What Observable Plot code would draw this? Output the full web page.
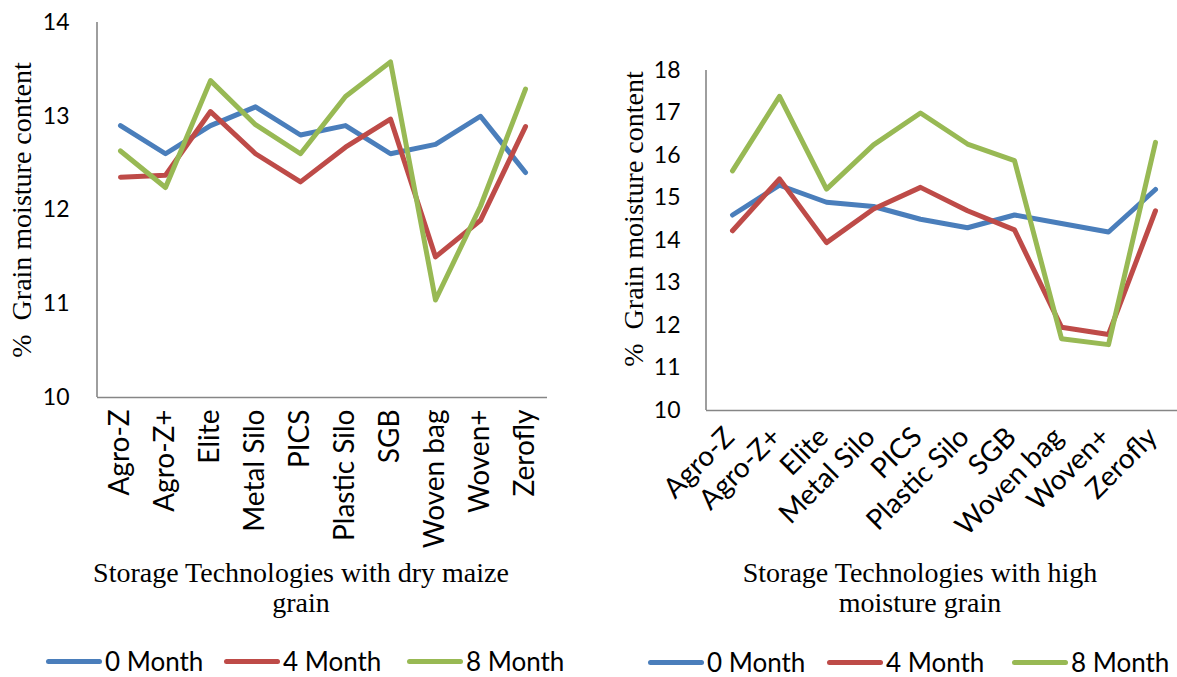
<!DOCTYPE html>
<html><head><meta charset="utf-8">
<script src="https://cdn.jsdelivr.net/npm/d3@7"></script>
<script src="https://cdn.jsdelivr.net/npm/@observablehq/plot@0.6"></script>
<style>
body{margin:0;background:#fff;}
#wrap{position:relative;width:1177px;height:677px;overflow:hidden;background:#fff;color:#000;}
.abs{position:absolute;}
.ytitle{font-family:"Liberation Serif","Times New Roman",serif;font-size:28px;white-space:pre;transform:translate(-50%,-50%) rotate(-90deg);line-height:1;}
.xtitle{font-family:"Liberation Serif","Times New Roman",serif;font-size:28px;line-height:30px;text-align:center;white-space:nowrap;transform:translateX(-50%);}
.leg{position:absolute;font-family:Lato,sans-serif;font-size:26px;line-height:26px;height:26px;white-space:nowrap;display:flex;align-items:center;}
.leg .sw{display:inline-block;width:56px;height:5px;border-radius:3px;margin-right:3px;}
</style></head><body><div id="wrap"></div>
<script>
// ---- data ----
const categories = ["Agro-Z","Agro-Z+","Elite","Metal Silo","PICS","Plastic Silo","SGB","Woven bag","Woven+","Zerofly"];
const seriesNames = ["0 Month","4 Month","8 Month"];
const seriesColors = ["#4a7ebb","#be4b48","#98b954"];

const dryMonth0 = [12.9, 12.6, 12.9, 13.1, 12.8, 12.9, 12.6, 12.7, 13.0, 12.4];
const dryMonth4 = [12.35, 12.37, 13.05, 12.6, 12.3, 12.67, 12.97, 11.5, 11.89, 12.89];
const dryMonth8 = [12.63, 12.24, 13.38, 12.91, 12.6, 13.21, 13.58, 11.04, 12.04, 13.29];

const highMonth0 = [14.6, 15.3, 14.9, 14.8, 14.5, 14.3, 14.6, 14.4, 14.2, 15.2];
const highMonth4 = [14.23, 15.45, 13.95, 14.74, 15.25, 14.7, 14.25, 11.96, 11.79, 14.7];
const highMonth8 = [15.64, 17.39, 15.21, 16.25, 17.0, 16.27, 15.88, 11.69, 11.55, 16.31];

const dryTicks = [10, 11, 12, 13, 14];
const highTicks = [10, 11, 12, 13, 14, 15, 16, 17, 18];

const yTitle = "%  Grain moisture content";
const dryXTitle = ["Storage Technologies with dry maize", "grain"];
const highXTitle = ["Storage Technologies with high", "moisture grain"];

// ---- build ----
function toRows(arrs) {
  const rows = [];
  arrs.forEach((arr, si) => arr.forEach((v, ci) => rows.push({series: seriesNames[si], cat: categories[ci], value: v})));
  return rows;
}

function leftAxisLine(index, scales, values, dims) {
  const l = document.createElementNS("http://www.w3.org/2000/svg", "line");
  l.setAttribute("x1", dims.marginLeft);
  l.setAttribute("x2", dims.marginLeft);
  l.setAttribute("y1", dims.marginTop);
  l.setAttribute("y2", dims.height - dims.marginBottom);
  l.setAttribute("stroke", "#868686");
  l.setAttribute("stroke-width", 1.6);
  return l;
}

function makeChart(o) {
  const svg = Plot.plot({
    width: o.width, height: o.height,
    marginLeft: o.marginLeft, marginRight: o.marginRight, marginTop: o.marginTop, marginBottom: o.marginBottom,
    style: {fontFamily: "Lato, sans-serif", color: "#000", background: "transparent", overflow: "visible"},
    x: {type: "point", domain: categories, padding: 0.5, range: o.xRange},
    y: {domain: [o.ticks[0], o.ticks[o.ticks.length - 1]]},
    color: {domain: seriesNames, range: seriesColors},
    marks: [
      Plot.axisY({ticks: o.ticks, tickSize: 0, tickPadding: o.yPad, fontSize: 23, label: null, tickFormat: d => String(d)}),
      Plot.axisX({tickSize: 0, tickRotate: o.rotate, tickPadding: o.tickPadding, fontSize: 28, label: null, dx: o.dx || 0}),
      Plot.ruleY([o.ticks[0]], {stroke: "#868686", strokeWidth: 1.6}),
      leftAxisLine,
      Plot.lineY(o.rows, {x: "cat", y: "value", stroke: "series", z: "series", strokeWidth: 5, strokeLinecap: "round", strokeLinejoin: "round"})
    ]
  });
  svg.style.position = "absolute";
  svg.style.left = o.left + "px";
  svg.style.top = o.top + "px";
  return svg;
}

const wrap = document.getElementById("wrap");

wrap.appendChild(makeChart({
  rows: toRows([dryMonth0, dryMonth4, dryMonth8]), ticks: dryTicks,
  left: 0, top: 0, width: 580, height: 527,
  marginLeft: 97, marginRight: 33, marginTop: 22, marginBottom: 130,
  rotate: -90, tickPadding: 12, yPad: 28
}));

wrap.appendChild(makeChart({
  rows: toRows([highMonth0, highMonth4, highMonth8]), ticks: highTicks,
  left: 590, top: 0, width: 587, height: 540,
  marginLeft: 116, marginRight: 0, marginTop: 70, marginBottom: 130,
  xRange: [116, 591], rotate: -45, tickPadding: 22, dx: -3, yPad: 26
}));

function addText(cls, text, x, y) {
  const d = document.createElement("div");
  d.className = "abs " + cls;
  d.textContent = text;
  d.style.left = x + "px";
  d.style.top = y + "px";
  wrap.appendChild(d);
  return d;
}
addText("ytitle", yTitle, 22, 210);
addText("ytitle", yTitle, 634, 219);

function addXTitle(lines, cx, top) {
  const d = document.createElement("div");
  d.className = "abs xtitle";
  d.innerHTML = lines.join("<br>");
  d.style.left = cx + "px";
  d.style.top = top + "px";
  wrap.appendChild(d);
}
addXTitle(dryXTitle, 301, 558);
addXTitle(highXTitle, 920, 558);

function addLegend(xs, top) {
  seriesNames.forEach((name, i) => {
    const d = document.createElement("div");
    d.className = "leg";
    d.style.left = xs[i] + "px";
    d.style.top = top + "px";
    const sw = document.createElement("span");
    sw.className = "sw";
    sw.style.background = seriesColors[i];
    const t = document.createElement("span");
    t.textContent = name;
    d.appendChild(sw); d.appendChild(t);
    wrap.appendChild(d);
  });
}
addLegend([46, 224, 407], 648);
addLegend([648, 827, 1012], 649);
</script></body></html>
